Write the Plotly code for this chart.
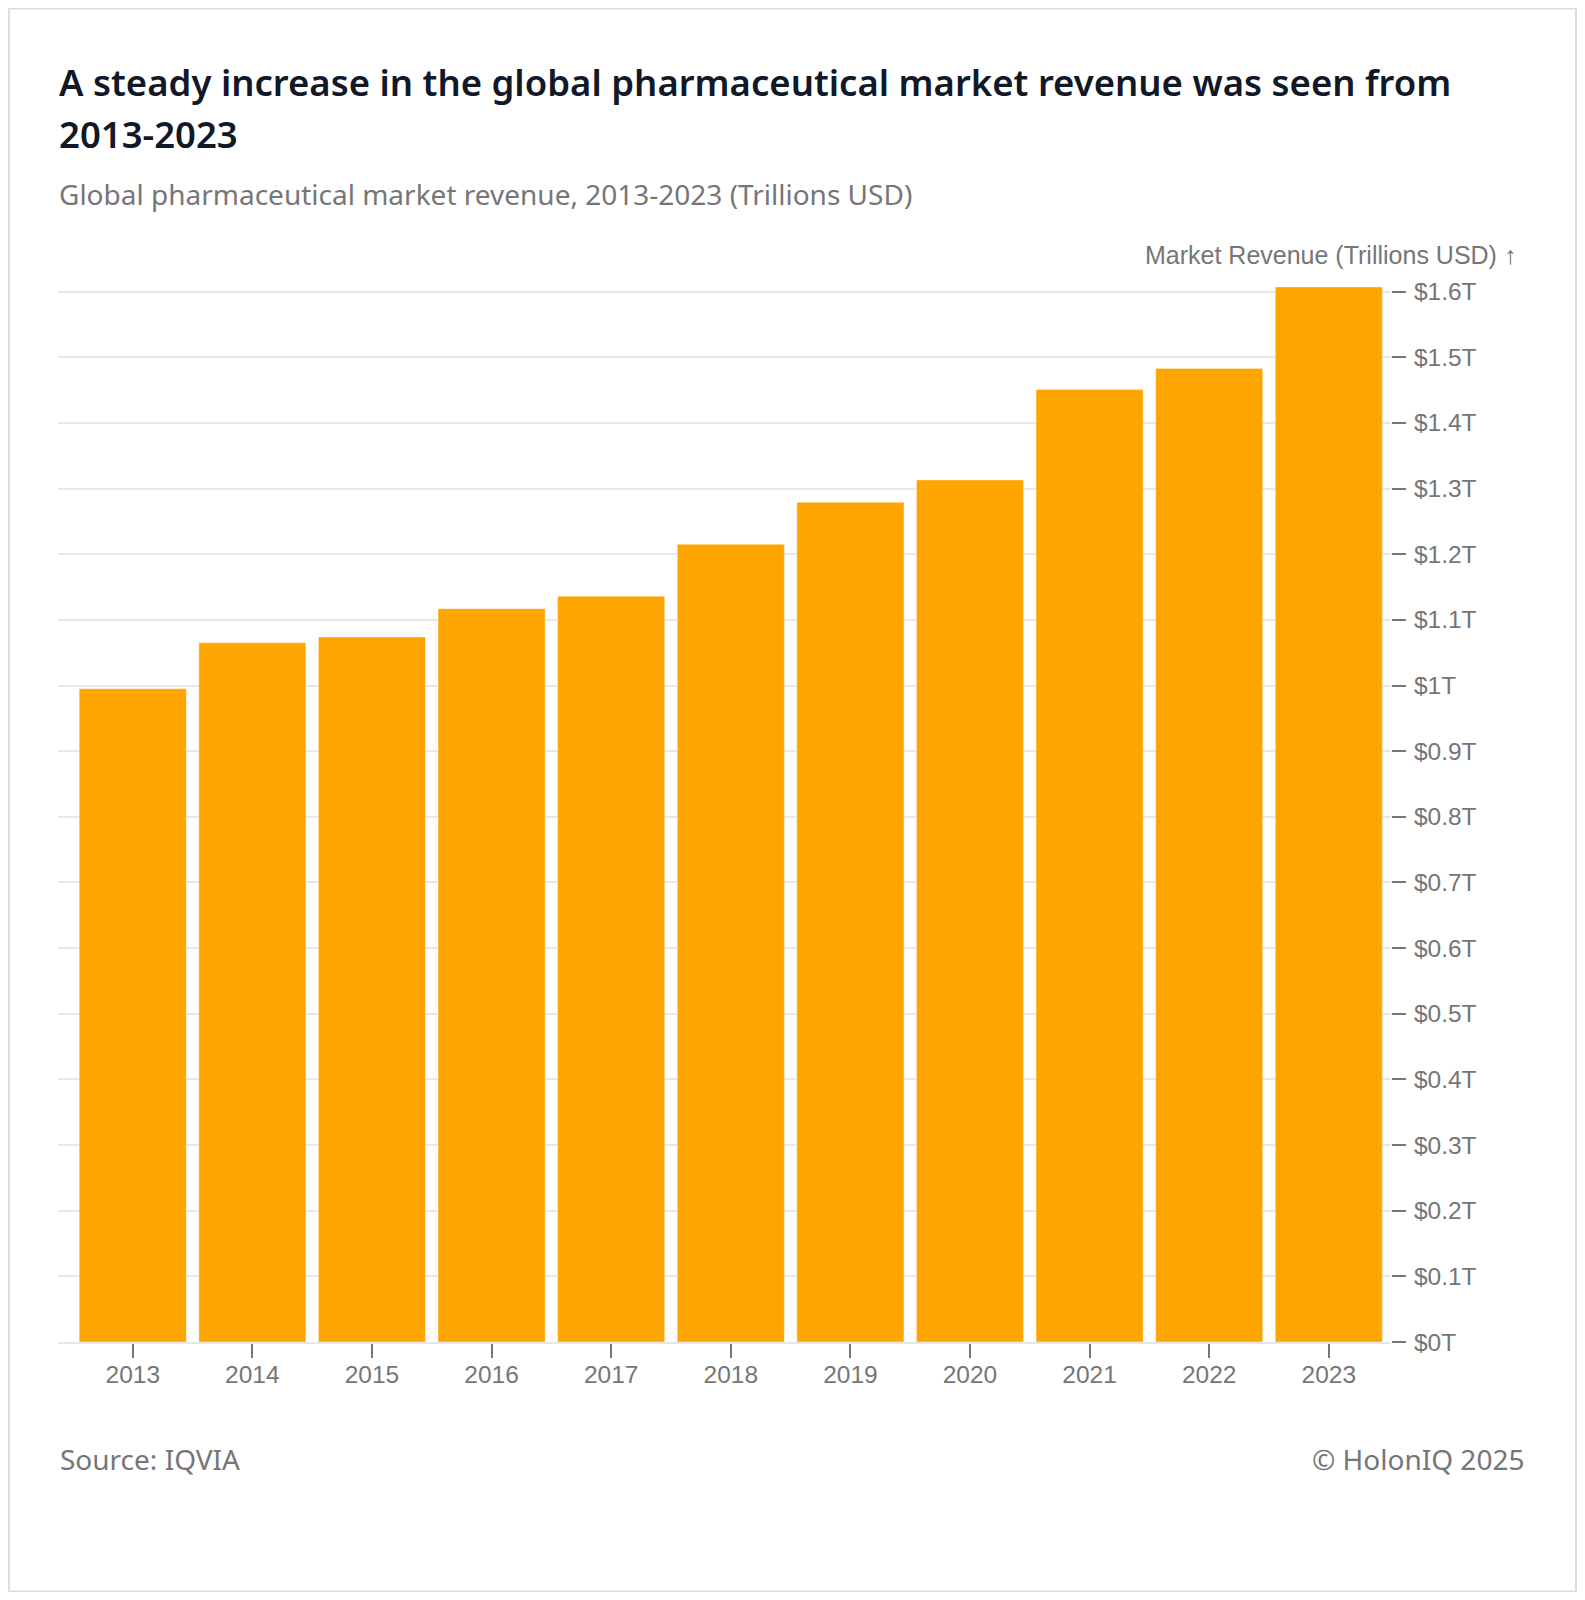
import plotly.graph_objects as go

# data (trillions USD)
years = ["2013", "2014", "2015", "2016", "2017", "2018",
         "2019", "2020", "2021", "2022", "2023"]
revenue = [0.995, 1.065, 1.074, 1.117, 1.136, 1.215,
           1.279, 1.313, 1.451, 1.483, 1.607]

y_tickvals = [0, 0.1, 0.2, 0.3, 0.4, 0.5, 0.6, 0.7, 0.8,
              0.9, 1.0, 1.1, 1.2, 1.3, 1.4, 1.5, 1.6]
y_ticktext = ["$0T", "$0.1T", "$0.2T", "$0.3T", "$0.4T", "$0.5T",
              "$0.6T", "$0.7T", "$0.8T", "$0.9T", "$1T", "$1.1T",
              "$1.2T", "$1.3T", "$1.4T", "$1.5T", "$1.6T"]

title_lines = ["A steady increase in the global pharmaceutical market revenue was seen from",
               "2013-2023"]
subtitle = "Global pharmaceutical market revenue, 2013-2023 (Trillions USD)"
axis_label = "Market Revenue (Trillions USD) ↑"
source = "Source: IQVIA"
credit = "© HolonIQ 2025"

# the page body has an 8px margin, so page pixels are shifted by OFF;
# the figure is kept small enough that the page never scrolls
OFF = 8
W, H = 1585 - 2 * OFF, 1600 - 2 * OFF
PX0, PX1 = 58 - OFF, 1391 - OFF        # plot left / right
PY0, PY1 = 287.3 - OFF, 1341.7 - OFF   # plot top / bottom


def px(x):
    return (x - OFF - PX0) / (PX1 - PX0)


def py(y):
    return (PY1 - (y - OFF)) / (PY1 - PY0)


GRAY = "#767676"
TEXT_FONT = "Noto Sans"
AXIS_FONT = "Liberation Sans, Arial, sans-serif"

fig = go.Figure(go.Bar(
    x=years,
    y=revenue,
    marker=dict(color="#FFA500", line=dict(color="rgba(255,255,255,0.35)", width=1)),
    hovertemplate="%{x}: $%{y:.2f}T<extra></extra>",
))

fig.update_layout(
    width=W, height=H,
    margin=dict(l=PX0, r=W - PX1, t=PY0, b=H - PY1, pad=0),
    paper_bgcolor="white",
    plot_bgcolor="white",
    bargap=0.105,
    showlegend=False,
    xaxis=dict(
        type="category",
        range=[-0.625, 10.52],
        showgrid=False,
        showline=True, linecolor="#e6e6e6", linewidth=2,
        ticks="outside", ticklen=14, tickwidth=2, tickcolor=GRAY,
        ticklabelstandoff=-4,
        tickfont=dict(family=AXIS_FONT, size=24.5, color=GRAY),
    ),
    yaxis=dict(
        side="right",
        range=[0, 1.607],
        tickvals=y_tickvals,
        ticktext=y_ticktext,
        showgrid=True, gridcolor="#e8e8e8", gridwidth=2,
        zeroline=False,
        showline=False,
        ticks="outside", ticklen=14, tickwidth=2, tickcolor=GRAY,
        ticklabelstandoff=3,
        tickfont=dict(family=AXIS_FONT, size=24.5, color=GRAY),
    ),
)

title_font = dict(family=TEXT_FONT, size=36.5, color="#111827", weight=600)
annotations = [
    dict(text=title_lines[0], x=px(57), y=py(55), xanchor="left", yanchor="top",
         font=title_font),
    dict(text=title_lines[1], x=px(57), y=py(107), xanchor="left", yanchor="top",
         font=title_font),
    dict(text=subtitle, x=px(57), y=py(173), xanchor="left", yanchor="top",
         font=dict(family=TEXT_FONT, size=28, color=GRAY)),
    dict(text=axis_label, x=px(1518), y=py(271), xanchor="right", yanchor="bottom",
         font=dict(family=AXIS_FONT, size=25, color=GRAY)),
    dict(text=source, x=px(58), y=py(1480), xanchor="left", yanchor="bottom",
         font=dict(family=TEXT_FONT, size=28, color=GRAY)),
    dict(text=credit, x=px(1526), y=py(1480), xanchor="right", yanchor="bottom",
         font=dict(family=TEXT_FONT, size=28, color=GRAY)),
]
for a in annotations:
    a.update(xref="paper", yref="paper", showarrow=False)
fig.update_layout(annotations=annotations)

# light card border around the whole chart (as close to the page edge as the figure allows)
fig.add_shape(type="rect", xref="paper", yref="paper",
              x0=px(OFF + 1), x1=px(OFF + W - 1), y0=py(OFF + H - 1), y1=py(OFF + 1),
              line=dict(color="#dddddd", width=2), fillcolor="rgba(0,0,0,0)",
              layer="below")

fig.write_html("out.html")
